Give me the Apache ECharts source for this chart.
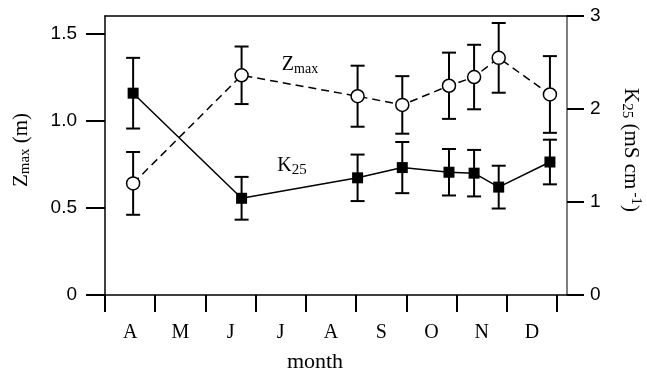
<!DOCTYPE html>
<html>
<head>
<meta charset="utf-8">
<script src="https://cdn.jsdelivr.net/npm/echarts@6/dist/echarts.min.js"></script>
<style>html,body{margin:0;padding:0;background:#fff}#c{width:647px;height:376px}</style>
</head>
<body>
<div id="c"></div>
<script>
// ---- data ----
const monthLabels = ['A','M','J','J','A','S','O','N','D'];
const monthTicks = [0,1,2,3,4,5,6,7,8,9];
const monthLabelPos = [0.5,1.5,2.5,3.5,4.5,5.5,6.5,7.5,8.5];
const leftTicks = [0,0.5,1.0,1.5];
const rightTicks = [0,1,2,3];
const sampleX = [0.56, 2.72, 5.03, 5.92, 6.85, 7.35, 7.84, 8.86];
const zmax    = [0.64, 1.26, 1.14, 1.09, 1.20, 1.25, 1.36, 1.15];
const zmaxErr = [0.18, 0.165, 0.175, 0.165, 0.19, 0.185, 0.20, 0.22];
const k25     = [2.17, 1.04, 1.26, 1.37, 1.32, 1.31, 1.16, 1.43];
const k25Err  = [0.38, 0.23, 0.25, 0.275, 0.25, 0.25, 0.23, 0.24];

const SERIF = '"Liberation Serif","Times New Roman",serif';
const SANS = '"Liberation Sans",Arial,sans-serif';

const zData = sampleX.map((x,i)=>[x, zmax[i]]);
const kData = sampleX.map((x,i)=>[x, k25[i]]);
const zErrData = sampleX.map((x,i)=>[x, zmax[i], zmaxErr[i]]);
const kErrData = sampleX.map((x,i)=>[x, k25[i], k25Err[i]]);

function errRender(params, api){
  const x = api.value(0), y = api.value(1), e = api.value(2);
  const t = api.coord([x, y + e]);
  const b = api.coord([x, y - e]);
  const hw = 7;
  const st = {stroke:'#000', lineWidth:2};
  return {type:'group', children:[
    {type:'line', shape:{x1:t[0], y1:t[1], x2:b[0], y2:b[1]}, style:st},
    {type:'line', shape:{x1:t[0]-hw, y1:t[1], x2:t[0]+hw, y2:t[1]}, style:st},
    {type:'line', shape:{x1:b[0]-hw, y1:b[1], x2:b[0]+hw, y2:b[1]}, style:st}
  ]};
}

const chart = echarts.init(document.getElementById('c'), null, {renderer:'canvas'});
chart.setOption({
  animation:false,
  backgroundColor:'#fff',
  grid:{left:105, right:80, top:16, bottom:81},
  xAxis:[{
    type:'value', min:0, max:9.2, position:'bottom',
    axisLine:{show:true, onZero:false, lineStyle:{color:'#000', width:1.5}},
    axisTick:{show:true, inside:false, length:17, customValues:monthTicks, lineStyle:{color:'#000', width:2}},
    axisLabel:{show:true, customValues:monthLabelPos, margin:28, color:'#000', fontFamily:SERIF, fontSize:20,
      formatter:v=>monthLabels[Math.floor(v)] || ''},
    splitLine:{show:false}
  },{
    type:'value', min:0, max:9.2, position:'top',
    axisLine:{show:true, onZero:false, lineStyle:{color:'#000', width:1.5}},
    axisTick:{show:false}, axisLabel:{show:false}, splitLine:{show:false}
  }],
  yAxis:[{
    type:'value', min:0, max:1.6, position:'left',
    axisLine:{show:true, onZero:false, lineStyle:{color:'#000', width:1.5}},
    axisTick:{show:true, inside:false, length:19, customValues:leftTicks, lineStyle:{color:'#000', width:2}},
    axisLabel:{show:true, customValues:leftTicks, margin:28, color:'#000', fontFamily:SANS, fontSize:19,
      formatter:v=> v===0 ? '0' : v.toFixed(1)},
    splitLine:{show:false}
  },{
    type:'value', min:0, max:3, position:'right',
    axisLine:{show:true, onZero:false, lineStyle:{color:'#555', width:1.5}},
    axisTick:{show:true, inside:false, length:17, customValues:rightTicks, lineStyle:{color:'#000', width:2}},
    axisLabel:{show:true, customValues:rightTicks, margin:23, color:'#000', fontFamily:SANS, fontSize:19,
      formatter:v=>String(v)},
    splitLine:{show:false}
  }],
  series:[
    {type:'custom', name:'zerr', xAxisIndex:0, yAxisIndex:0, renderItem:errRender, data:zErrData, encode:{x:0,y:1}, z:1, silent:true},
    {type:'custom', name:'kerr', xAxisIndex:0, yAxisIndex:1, renderItem:errRender, data:kErrData, encode:{x:0,y:1}, z:1, silent:true},
    {type:'line', name:'Zmax', xAxisIndex:0, yAxisIndex:0, data:zData, z:3,
      symbol:'circle', symbolSize:13, showAllSymbol:true,
      itemStyle:{color:'#fff', borderColor:'#000', borderWidth:1.5},
      lineStyle:{color:'#000', width:1.5, type:[8,5]}},
    {type:'line', name:'K25', xAxisIndex:0, yAxisIndex:1, data:kData, z:3,
      symbol:'rect', symbolSize:11, showAllSymbol:true,
      itemStyle:{color:'#000', borderColor:'#000', borderWidth:0},
      lineStyle:{color:'#000', width:1.5, type:'solid'}}
  ],
  graphic:[
    {type:'text', x:21, y:150, rotation:Math.PI/2, z:10,
      style:{text:'{z|Z}{s|max}{z| (m)}', align:'center', verticalAlign:'middle',
        rich:{z:{fontFamily:SERIF, fontSize:21, fill:'#000'}, s:{fontFamily:SERIF, fontSize:15, fill:'#000', padding:[9,0,0,0]}}}},
    {type:'text', x:631, y:150, rotation:-Math.PI/2, z:10,
      style:{text:'{z|K}{s|25}{z| (mS cm}{p|-1}{z|)}', align:'center', verticalAlign:'middle',
        rich:{z:{fontFamily:SERIF, fontSize:21, fill:'#000'}, s:{fontFamily:SERIF, fontSize:15, fill:'#000', padding:[9,0,0,0]},
              p:{fontFamily:SERIF, fontSize:15, fill:'#000', padding:[0,0,9,3]}}}},
    {type:'text', x:300, y:65, z:10,
      style:{text:'{z|Z}{s|max}', align:'center', verticalAlign:'middle',
        rich:{z:{fontFamily:SERIF, fontSize:20, fill:'#000'}, s:{fontFamily:SERIF, fontSize:14, fill:'#000', padding:[8,0,0,0]}}}},
    {type:'text', x:292, y:166, z:10,
      style:{text:'{z|K}{s|25}', align:'center', verticalAlign:'middle',
        rich:{z:{fontFamily:SERIF, fontSize:20, fill:'#000'}, s:{fontFamily:SERIF, fontSize:15, fill:'#000', padding:[8,0,0,0]}}}},
    {type:'text', x:315, y:362, z:10,
      style:{text:'month', align:'center', verticalAlign:'middle', fontFamily:SERIF, fontSize:22, fill:'#000'}}
  ]
});
</script>
</body>
</html>
